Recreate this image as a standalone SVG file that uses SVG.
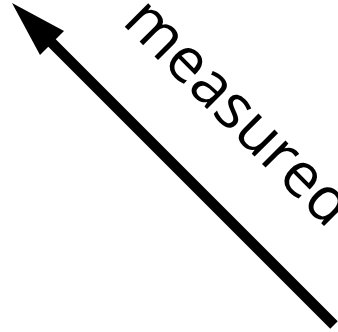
<svg xmlns="http://www.w3.org/2000/svg" width="338" height="332" viewBox="0 0 338 332">
<style>
.shaft{stroke:#000;stroke-width:10.6;fill:none;stroke-linecap:butt}
.head{fill:#000;stroke:none}
.lbl{font-family:"Open Sans",sans-serif;font-size:62px;fill:#000}
</style>
<rect width="338" height="332" fill="#fff"/>
<g id="connectors">
<line class="shaft" x1="334" y1="325" x2="48" y2="39"/>
<polygon class="head" points="12,3 64,31 40,55"/>
</g>
<g id="label">
<text class="lbl" transform="translate(121,23) rotate(45)" x="0" y="0">measured</text>
</g>
</svg>
